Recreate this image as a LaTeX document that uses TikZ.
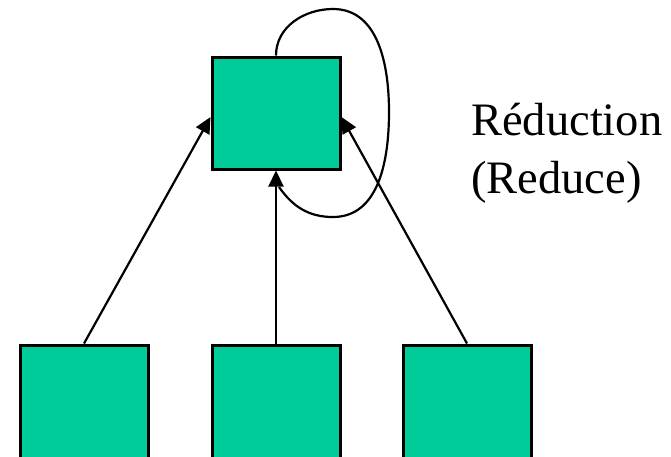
\documentclass[tikz,border=0pt]{standalone}
\usepackage{fontspec}
\setmainfont{Liberation Serif}
\usetikzlibrary{arrows.meta}
\definecolor{boxgreen}{RGB}{0,204,153}
\begin{document}
\begin{tikzpicture}[x=1pt,y=-1pt,
  greenbox/.style={draw=black,line width=3pt,fill=boxgreen,minimum width=128pt,minimum height=112pt,inner sep=0pt},
  link/.style={line width=2.2pt,-{Triangle[length=16pt,width=15pt]}},
  labeltext/.style={font=\fontsize{46.5}{54}\selectfont,inner sep=0pt,anchor=base west}]
\useasboundingbox (0,0) rectangle (671,456);
% reduced node and its three inputs
\node[greenbox] (top) at (276,113) {};
\node[greenbox,minimum height=120pt] (left) at (84,405) {};
\node[greenbox,minimum height=120pt] (mid) at (276,405) {};
\node[greenbox,minimum height=120pt] (right) at (467,405) {};
% arrows from the inputs
\draw[link] (left.north) -- ([yshift=-4pt]top.west);
\draw[link] (mid.north) -- (top.south);
\draw[link] (right.north) -- ([yshift=-4pt]top.east);
% self loop around the reduced node
\coordinate (loopend) at (279,187);
\draw[line width=2.2pt] (top.north) to[out=90,in=180] (333,9)
  to[out=0,in=90] (389,112) to[out=-90,in=0] (333,217)
  to[out=180,in=-55] (loopend);
% caption
\node[labeltext] (lbl1) at (471,135) {Réduction};
\node[labeltext] (lbl2) at (471,193) {(Reduce)};
\end{tikzpicture}
\end{document}
